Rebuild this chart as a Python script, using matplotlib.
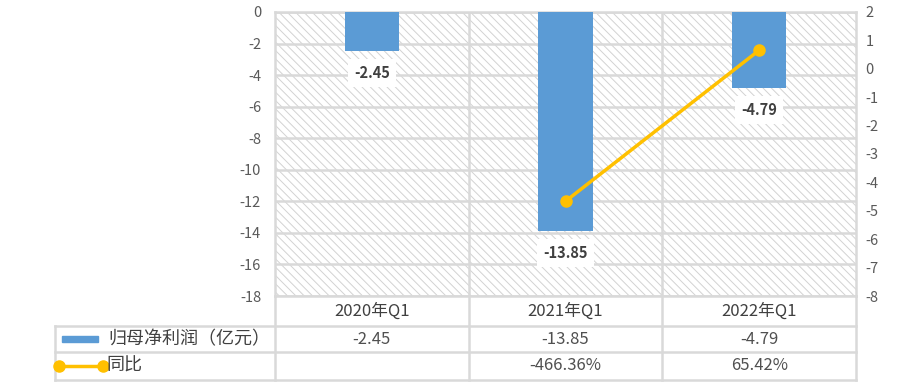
import matplotlib
matplotlib.use("Agg")
import matplotlib.pyplot as plt
from matplotlib.patches import Rectangle
from matplotlib.lines import Line2D
import numpy as np

plt.rcParams['font.family'] = ['Noto Sans CJK SC', 'DejaVu Sans']
plt.rcParams['hatch.linewidth'] = 0.7
plt.rcParams['axes.unicode_minus'] = False

categories = ['2020年Q1', '2021年Q1', '2022年Q1']
profit = [-2.45, -13.85, -4.79]
profit_labels = ['-2.45', '-13.85', '-4.79']
yoy = [np.nan, -4.6636, 0.6542]
yoy_labels = ['', '-466.36%', '65.42%']
series_names = ['归母净利润（亿元）', '同比']

BLUE = '#5B9BD5'
GOLD = '#FFC000'
GRID = '#D9D9D9'
TXT = '#595959'

fig = plt.figure(figsize=(9.15, 3.92), dpi=100)
W, H = 915, 392
L, R, T, B = 275, 856, 12, 296
ax = fig.add_axes([L / W, 1 - B / H, (R - L) / W, (B - T) / H])
ax2 = ax.twinx()

x = np.arange(len(categories))
ax.set_xlim(-0.5, 2.5)
ax.set_ylim(-18, 0)
ax2.set_ylim(-8, 2)

# hatched background
ax.patch.set_facecolor('white')
bg = Rectangle((0, 0), 1, 1, transform=ax.transAxes, facecolor='white',
               edgecolor='#D2D2D2', hatch='\\\\\\\\', lw=0, zorder=0)
ax.add_patch(bg)

ax.set_yticks(np.arange(-18, 1, 2))
ax.yaxis.grid(True, color=GRID, lw=1.8, zorder=1)
ax.set_axisbelow(True)
for xv in [0.5, 1.5]:
    ax.axvline(xv, color=GRID, lw=1.8, zorder=1)
for s in ax.spines.values():
    s.set_color(GRID)
    s.set_linewidth(1.8)
for s in ax2.spines.values():
    s.set_visible(False)

ax.bar(x, profit, width=0.28, color=BLUE, zorder=3)
for xi, v, lab in zip(x, profit, profit_labels):
    ax.annotate(lab, (xi, v), xytext=(0, -16), textcoords='offset points',
                ha='center', va='center', fontsize=10.5, fontweight='bold',
                color='#404040', zorder=5,
                bbox=dict(boxstyle='square,pad=0.4', fc='white', ec='none'))

ax2.plot(x, yoy, color=GOLD, lw=2.5, marker='o', markersize=8, zorder=4)
ax.set_zorder(1)
ax2.set_zorder(2)
ax2.patch.set_visible(False)

ax.set_xticks([])
ax.tick_params(axis='y', length=0, pad=10, labelsize=10.5, labelcolor=TXT)
ax2.set_yticks(np.arange(-8, 3, 1))
ax2.tick_params(axis='y', length=0, pad=7, labelsize=10.5, labelcolor=TXT)

# data table
tl = (55 - L) / (R - L)
rows_px = [B, 326, 352, 380]
rows = [-(r - B) / (B - T) for r in rows_px]
tr = ax.transAxes
lk = dict(color=GRID, lw=1.8, transform=tr, clip_on=False)
for xf in [0, 1 / 3, 2 / 3, 1]:
    ax.add_line(Line2D([xf, xf], [rows[0], rows[3]], **lk))
ax.add_line(Line2D([tl, tl], [rows[1], rows[3]], **lk))
for r in rows[1:]:
    ax.add_line(Line2D([tl, 1], [r, r], **lk))

def mid(i):
    return (rows[i] + rows[i + 1]) / 2

for i, c in enumerate(categories):
    ax.text((i + 0.5) / 3, mid(0), c, transform=tr, ha='center', va='center',
            fontsize=12, color='#404040', clip_on=False)
    ax.text((i + 0.5) / 3, mid(1), profit_labels[i], transform=tr, ha='center',
            va='center', fontsize=12, color='#505050', clip_on=False)
    ax.text((i + 0.5) / 3, mid(2), yoy_labels[i], transform=tr, ha='center',
            va='center', fontsize=12, color='#505050', clip_on=False)

def fx(px):
    return (px - L) / (R - L)

ax.add_patch(Rectangle((fx(62), mid(1) - 0.012), fx(98) - fx(62), 0.024,
                       transform=tr, color=BLUE, clip_on=False))
ax.add_line(Line2D([fx(59), fx(103)], [mid(2), mid(2)], color=GOLD, lw=2.5,
                   marker='o', markersize=8, transform=tr, clip_on=False))
ax.text(fx(108), mid(1), series_names[0], transform=tr, ha='left', va='center',
        fontsize=13, color='#404040', clip_on=False)
ax.text(fx(106), mid(2), series_names[1], transform=tr, ha='left', va='center',
        fontsize=13, color='#404040', clip_on=False)

fig.savefig('out.png', dpi=100)
